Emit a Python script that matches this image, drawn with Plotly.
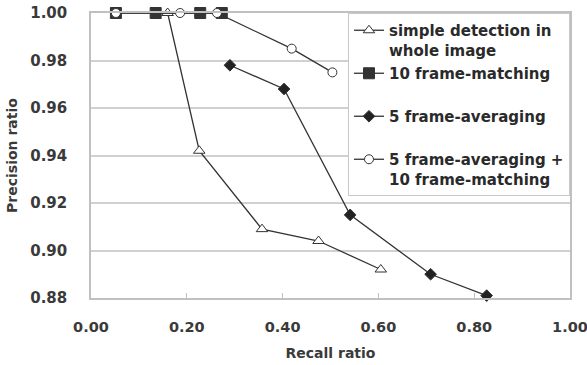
import plotly.graph_objects as go

# Data
simple_recall = [0.160, 0.226, 0.357, 0.475, 0.605]
simple_precision = [1.000, 0.942, 0.909, 0.904, 0.892]

match10_recall = [0.052, 0.135, 0.228, 0.273]
match10_precision = [1.000, 1.000, 1.000, 1.000]

avg5_recall = [0.290, 0.403, 0.541, 0.709, 0.826]
avg5_precision = [0.978, 0.968, 0.915, 0.890, 0.881]

combo_recall = [0.052, 0.186, 0.263, 0.419, 0.504]
combo_precision = [1.000, 1.000, 1.000, 0.985, 0.975]

names = [
    "simple detection in<br>whole image",
    "10 frame-matching<br>\u00a0",
    "5 frame-averaging<br>\u00a0",
    "5 frame-averaging +<br>10 frame-matching",
]

x_ticks = [0.0, 0.2, 0.4, 0.6, 0.8, 1.0]
y_ticks = [0.88, 0.90, 0.92, 0.94, 0.96, 0.98, 1.00]

LINE = "#333333"

fig = go.Figure()
fig.add_trace(go.Scatter(
    x=simple_recall, y=simple_precision, name=names[0], mode="lines+markers",
    legendgroup="a",
    line=dict(color=LINE, width=1.3),
    marker=dict(symbol="triangle-up", size=10, color="white", line=dict(color=LINE, width=1)),
    cliponaxis=False))
fig.add_trace(go.Scatter(
    x=match10_recall, y=match10_precision, name=names[1], mode="lines+markers",
    legendgroup="b",
    line=dict(color=LINE, width=1.3),
    marker=dict(symbol="square", size=11, color="#333333", line=dict(color=LINE, width=1)),
    cliponaxis=False))
fig.add_trace(go.Scatter(
    x=avg5_recall, y=avg5_precision, name=names[2], mode="lines+markers",
    legendgroup="c",
    line=dict(color=LINE, width=1.3),
    marker=dict(symbol="diamond", size=9, color="#222222", line=dict(color=LINE, width=1)),
    cliponaxis=False))
fig.add_trace(go.Scatter(
    x=combo_recall, y=combo_precision, name=names[3], mode="lines+markers",
    legendgroup="d",
    line=dict(color=LINE, width=1.3),
    marker=dict(symbol="circle", size=9, color="white", line=dict(color=LINE, width=1)),
    cliponaxis=False))

fig.update_layout(
    width=587, height=365,
    margin=dict(l=91, r=17, t=13, b=67),
    paper_bgcolor="white", plot_bgcolor="white",
    font=dict(family="DejaVu Sans", size=14, color="#3a3a3a", weight="bold"),
    showlegend=True,
    legend=dict(
        x=1, xanchor="right", y=1, yanchor="top",
        bgcolor="white", bordercolor="#c8c8c8", borderwidth=1,
        font=dict(family="DejaVu Sans", size=15, color="#2a2a2a", weight="bold"),
        valign="top", tracegroupgap=1, itemwidth=30,
    ),
)
fig.update_xaxes(
    range=[0, 1], tickvals=x_ticks, ticktext=[f"{v:.2f}" for v in x_ticks],
    showgrid=False, zeroline=False, automargin=False,
    showline=True, linecolor="#c0c0c0", linewidth=1.5, mirror=True,
    ticks="inside", ticklen=5, tickcolor="#c0c0c0",
    ticklabelstandoff=15, ticklabeloverflow="allow",
    tickfont=dict(size=14.5),
    title=dict(text="Recall ratio", standoff=14, font=dict(size=14)),
)
fig.update_yaxes(
    range=[0.88, 1.00], tickvals=y_ticks, ticktext=[f"{v:.2f}" for v in y_ticks],
    showgrid=True, gridcolor="#d0d0d0", gridwidth=1.5, zeroline=False, automargin=False,
    showline=True, linecolor="#c0c0c0", linewidth=1.5, mirror=True,
    ticks="", ticklabelstandoff=19, ticklabeloverflow="allow",
    tickfont=dict(size=15),
    title=dict(text="Precision ratio", standoff=9, font=dict(size=14)),
)

# remove the browser's default 8px page margin so the 587x365 figure fills the window
fig.write_html("out.html", config={"displayModeBar": False},
               post_script="document.body.style.margin='0';")
